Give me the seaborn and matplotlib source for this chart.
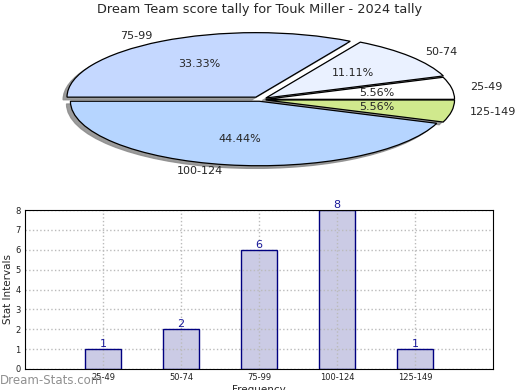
import matplotlib
matplotlib.use("Agg")
import matplotlib.pyplot as plt
import seaborn as sns
import pandas as pd

# data
intervals = ['25-49', '50-74', '75-99', '100-124', '125-149']
counts = [1, 2, 6, 8, 1]
pie_colors = ['#ffffff', '#eaf1ff', '#c5d8ff', '#b6d5ff', '#d0e98d']
explode = [0.03, 0.04, 0.045, 0.025, 0.03]
title = 'Dream Team score tally for Touk Miller - 2024 tally'

sns.set_style('white')
plt.rcParams['font.family'] = ['DejaVu Sans']

fig = plt.figure(figsize=(5.2, 3.9), dpi=100)
fig.text(0.5, 0.975, title, ha='center', va='center', fontsize=9.3)

# pie on top, squashed into an ellipse
ax1 = fig.add_axes([14.6 / 520, 0.546, 491 / 520, 154.8 / 390])
ax1.pie(counts, labels=intervals, colors=pie_colors, explode=explode,
        autopct='%.2f%%', startangle=0,
        shadow={'ox': -0.015, 'oy': -0.03, 'facecolor': '#8a8a8a',
                'edgecolor': '#8a8a8a', 'alpha': 0.85},
        wedgeprops={'edgecolor': 'black', 'linewidth': 0.9},
        textprops={'fontsize': 8})
ax1.set_aspect('auto')
ax1.set_xlim(-1.3, 1.3)
ax1.set_ylim(-1.2, 1.2)
ax1.axis('off')

# bar chart below
ax2 = fig.add_axes([25 / 520, 1 - 369 / 390, 468 / 520, 159 / 390])
df = pd.DataFrame({'interval': intervals, 'count': counts})
sns.barplot(data=df, x='interval', y='count', ax=ax2, color='#cbcbe5',
            linewidth=0, width=0.46, saturation=1)
ax2.set_xlim(-1, 5)
ax2.set_ylim(0, 8)
ax2.set_yticks(range(0, 9))
ax2.grid(True, color='#bbbbbb', linestyle=':', linewidth=1)
ax2.set_axisbelow(False)
# bar outlines drawn above the grid
for p in ax2.patches:
    ax2.add_patch(plt.Rectangle(p.get_xy(), p.get_width(), p.get_height(),
                                fill=False, edgecolor='#000080', linewidth=1, zorder=4))
for s in ax2.spines.values():
    s.set_color('black')
    s.set_linewidth(0.8)
    s.set_zorder(5)
ax2.tick_params(axis='both', labelsize=6, length=2, pad=1, labelcolor='#222222')
ax2.set_ylabel('Stat Intervals', fontsize=7.5, labelpad=2)
ax2.set_xlabel('Frequency', fontsize=7.5, labelpad=2)
for i, c in enumerate(counts):
    ax2.text(i, c, str(c), ha='center', va='bottom', color='#1a1a9a', fontsize=8)

fig.text(0.0, 0.025, 'Dream-Stats.com', color='#909090', fontsize=8.5, ha='left', va='center')

fig.savefig('out.png', dpi=100)
